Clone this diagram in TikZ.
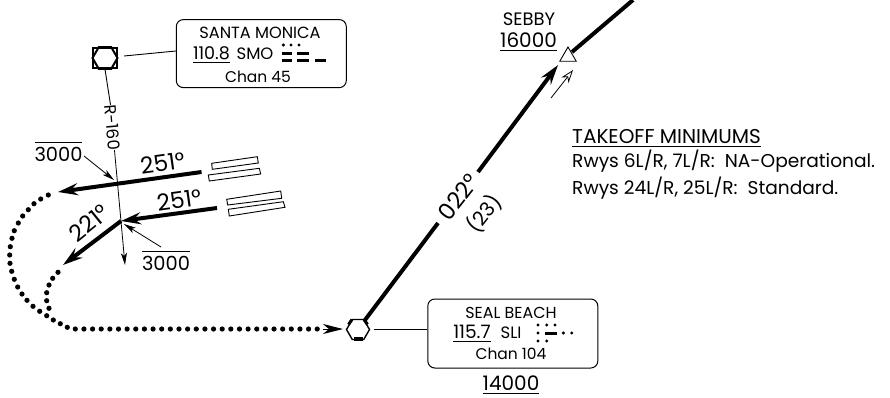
\documentclass[tikz,border=0pt]{standalone}
\usepackage{fontspec}
\setmainfont{Poppins}
\usetikzlibrary{arrows.meta,calc,shapes.geometric}
\newcommand{\altunder}[1]{\vtop{\hbox{#1}\kern 3pt\hrule height 1pt}}
\newcommand{\altover}[1]{\vbox{\hrule height 1pt\kern 4pt\hbox{#1}}}
\newcommand{\fsz}[1]{\fontsize{#1}{#1}\selectfont}
\tikzset{
	lbl/.style={inner sep=0pt, anchor=base},
	tilted/.style={inner sep=0pt},
	freqbox/.style={draw, line width=1pt, rounded corners=7pt, minimum width=170pt, inner sep=0pt},
	leg/.style={line width=4pt, -{Stealth[length=20pt,width=12pt,inset=7pt]}},
	thinleg/.style={line width=0.8pt, -{Stealth[length=12pt,width=6pt,inset=3pt]}},
	rwy/.style={draw, line width=0.9pt, fill=white},
	dot/.style={fill=black}
}
\begin{document}
\begin{tikzpicture}[x=1pt, y=-1pt]
	\useasboundingbox (0,0) rectangle (890,397);
	%santa monica
	\node (smo) at (105,58) [draw, line width=2.5pt, minimum width=24pt, minimum height=20pt, inner sep=0pt]{};
	\node (smohex) at (105,58) [draw, regular polygon, regular polygon sides=6, line width=2pt, minimum size=25pt, inner sep=0pt]{};
	\node (smobox) at (261.3,53.6) [freqbox, minimum height=68pt]{};
	\coordinate (smofoot) at (124,56);
	\draw[line width=0.9pt] (smofoot) -- ($(smobox.west)+(0,-2.6)$);
	\node (smoname) at (260,38) [lbl, font=\fsz{16.2}]{SANTA MONICA};
	\node (smofreq) at (211.5,59) [lbl, font=\fsz{17.5}]{\altunder{110.8}};
	\node (smoid) at (255,59) [lbl, font=\fsz{16.5}]{SMO};
	\node (smochan) at (258,82) [lbl, font=\fsz{15.5}]{Chan 45};
	\foreach \x in {283.3, 291, 299}{
		\fill[dot] (\x,45) circle (1.7);
	}
	\foreach \y in {53, 60}{
		\draw[line width=3pt] (281.5,\y)--(292,\y);
		\draw[line width=3pt] (297,\y)--(309,\y);
	}
	\draw[line width=3pt] (315,60)--(326,60);

	%radial
	\node (radial) at (112.5,127.5) [tilted, font=\fsz{16.5}, rotate=-85]{R-160};
	\coordinate (radtip) at (125,265);
	\draw[line width=0.9pt] (smo.south) -- (radial.west);
	\draw[thinleg] (radial.east) -- (radtip);

	%departure legs
	\coordinate (upstart) at (201.5,172);
	\coordinate (uptip) at (58,192);
	\coordinate (lowstart) at (217,208);
	\coordinate (turn) at (121,221);
	\coordinate (lowtip) at (63,265);
	\draw[leg] (upstart) -- (uptip);
	\draw[leg] (lowstart) -- (turn);
	\draw[leg] (turn) -- (lowtip);
	\node (hdgup) at (162.5,163) [tilted, font=\fsz{23}, rotate=8]{251°};
	\node (hdglow) at (179,200) [tilted, font=\fsz{23}, rotate=8]{251°};
	\node (hdgturn) at (89,223) [tilted, font=\fsz{23}, rotate=39]{221°};

	%runways
	\draw[rwy] (211.7,163.3)--(257.3,156.7)--(258.3,163)--(212.3,169.3)--cycle;
	\draw[rwy] (208.3,175)--(259.3,168.3)--(260.7,174)--(209.3,181)--cycle;
	\draw[rwy] (226.7,199.3)--(280.7,191)--(281.7,198.3)--(227.7,205)--cycle;
	\draw[rwy] (228.3,209.3)--(283.3,201.7)--(285,207.3)--(229.3,216)--cycle;

	%altitudes
	\node (altup) at (58.5,161) [lbl, font=\fsz{19.4}]{\altover{3000}};
	\node (altlow) at (166,270.5) [lbl, font=\fsz{19.4}]{\altover{3000}};
	\coordinate (altupfoot) at (84,156);
	\coordinate (altuptip) at (114,180);
	\coordinate (altlowfoot) at (161,247);
	\coordinate (altlowtip) at (124,224);
	\draw[thinleg] (altupfoot) -- (altuptip);
	\draw[thinleg] (altlowfoot) -- (altlowtip);

	%dotted track
	\foreach \x/\y in {48.3/195, 40.7/199, 34/203.7, 28.3/209.7, 22.7/216, 18.3/223, 14.3/230.7, 12/238.3,
		10.3/246.7, 9.7/255, 10/263.3, 11.7/271.3, 14.3/279.3, 17.7/287, 22/294, 27/300.3, 33/306.3,
		39.7/311.3, 46.7/315.7, 53.3/320, 60.3/323.7, 67.3/327.3, 58/272.3, 52.7/278.3, 49/285,
		46.7/292.7, 46.7/300.7, 49/308.3}{
		\fill[dot] (\x,\y) circle (2.6);
	}
	\foreach \i in {0, 1, ..., 28}{
		\fill[dot] (75.3+\i*8.64,329) circle (2.6);
	}

	%seal beach
	\node (sli) at (358,329.5) [draw, regular polygon, regular polygon sides=6, line width=1.4pt, minimum size=23pt, inner sep=0pt]{};
	\draw[line width=4pt] ($(sli.center)+(-4.5,9)$) -- ($(sli.center)+(4.5,9)$);
	\draw[line width=3pt] ($(sli.center)+(-9.5,-5)$) -- ($(sli.center)+(-6,-10)$);
	\draw[line width=3pt] ($(sli.center)+(9.5,-5)$) -- ($(sli.center)+(6,-10)$);
	\coordinate (dottip) at (343,329);
	\coordinate (dotstart) at (323,329);
	\draw[line width=0.9pt, -{Stealth[length=20pt,width=10pt,inset=6pt]}] (dotstart) -- (dottip);
	\node (slibox) at (512.8,333.5) [freqbox, minimum height=69pt]{};
	\coordinate (slifoot) at (374,329);
	\draw[line width=0.9pt] (slifoot) -- ($(slibox.west)+(0,-4.5)$);
	\node (sliname) at (511,318) [lbl, font=\fsz{15.9}]{SEAL BEACH};
	\node (slifreq) at (472,338) [lbl, font=\fsz{18.5}]{\altunder{115.7}};
	\node (sliid) at (511,338) [lbl, font=\fsz{16.5}]{SLI};
	\node (slichan) at (511,359) [lbl, font=\fsz{15.5}]{Chan 104};
	\node (slialt) at (511,390) [lbl, font=\fsz{20}]{\altunder{14000}};
	\foreach \x/\y in {538/325, 546.7/325, 555/325, 538/333, 563.3/333, 571.7/333, 538/341, 546.7/341}{
		\fill[dot] (\x,\y) circle (1.7);
	}
	\draw[line width=3pt] (545,333)--(557,333);

	%sebby
	\node (sebby) at (568,56.5) [draw, regular polygon, regular polygon sides=3, line width=0.9pt, minimum size=19pt, inner sep=0pt]{};
	\node (sebbyname) at (529,25) [lbl, font=\fsz{18}]{SEBBY};
	\node (sebbyalt) at (528.5,47) [lbl, font=\fsz{20}]{\altunder{16000}};
	\node (crs) at (458,197) [tilted, font=\fsz{23}, rotate=52]{022°};
	\node (dist) at (484,214) [tilted, font=\fsz{20}, rotate=52]{(23)};
	\coordinate (crslow) at (438,223);
	\coordinate (crsup) at (478,172);
	\coordinate (sebbytip) at (558,65);
	\coordinate (exit) at (633,0);
	\coordinate (slineck) at (365,320);
	\coordinate (sebbyneck) at (572,52);
	\draw[line width=4pt] (slineck) -- (crslow);
	\draw[leg] (crsup) -- (sebbytip);
	\draw[line width=4pt] (sebbyneck) -- (exit);
	\coordinate (cuefoot) at (551,98);
	\coordinate (cuetip) at (573,70);
	\draw[line width=0.8pt, -{Stealth[open, length=13pt,width=9pt,inset=4pt, fill=white]}] (cuefoot) -- (cuetip);

	%minimums
	\node (tomhead) at (572,143) [lbl, anchor=base west, font=\fsz{20}]{\altunder{TAKEOFF MINIMUMS}};
	\node (tomone) at (572,167) [lbl, anchor=base west, font=\fsz{18.6}]{Rwys 6L/R, 7L/R:\ \ NA-Operational.};
	\node (tomtwo) at (572,194) [lbl, anchor=base west, font=\fsz{18.6}]{Rwys 24L/R, 25L/R:\ \ Standard.};
\end{tikzpicture}
\end{document}
